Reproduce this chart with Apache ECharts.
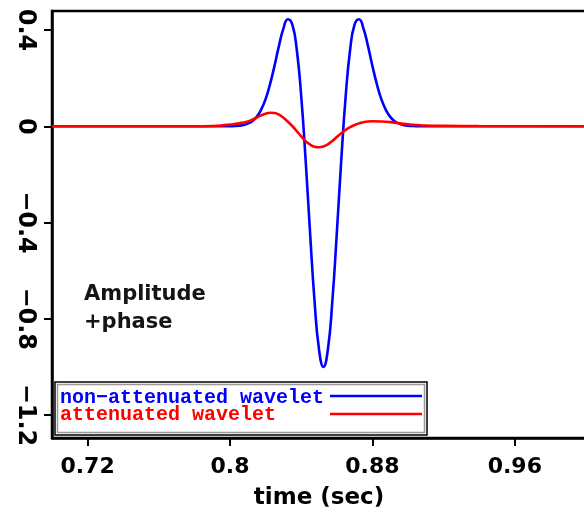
<!DOCTYPE html>
<html>
<head>
<meta charset="utf-8">
<script src="https://cdn.jsdelivr.net/npm/echarts@6/dist/echarts.min.js"></script>
<style>html,body{margin:0;padding:0;background:#fff;}#c{width:584px;height:513px;}</style>
</head>
<body>
<div id="c"></div>
<script>
var xTicks = [0.72, 0.8, 0.88, 0.96];
var yTicks = [0.4, 0, -0.4, -0.8, -1.2];
var seriesNames = ['non\u2212attenuated wavelet', 'attenuated wavelet'];
var annotation = ['Amplitude', '+phase'];

var blueT = [0.70, 0.79, 0.80,
  0.8025, 0.805, 0.8075, 0.81, 0.8125, 0.815, 0.8175, 0.82, 0.8225, 0.825,
  0.8275, 0.83, 0.8325, 0.835, 0.8375, 0.84, 0.8425, 0.845, 0.8475, 0.85,
  0.8525,
  0.855, 0.8575, 0.86, 0.8625, 0.865, 0.8675, 0.87, 0.8725, 0.875, 0.8775,
  0.88, 0.8825, 0.885, 0.8875, 0.89, 0.8925, 0.895, 0.8975, 0.90, 0.9025,
  0.91, 1.0];
var blueV = [0, 0, 0,
  0.001, 0.002, 0.005, 0.011, 0.021, 0.039, 0.069, 0.113, 0.175, 0.251,
  0.334, 0.406, 0.445, 0.423, 0.319, 0.126, -0.142, -0.445, -0.727, -0.927,
  -1.0,
  -0.927, -0.727, -0.445, -0.142, 0.126, 0.319, 0.423, 0.445, 0.406, 0.334,
  0.251, 0.175, 0.113, 0.069, 0.039, 0.021, 0.011, 0.005, 0.002, 0.001,
  0, 0];

var redT = [0.70, 0.78, 0.79, 0.795, 0.80, 0.805, 0.81, 0.8125, 0.815, 0.8175,
  0.82, 0.8225, 0.825, 0.8275, 0.83, 0.8325, 0.835, 0.8375, 0.84, 0.8425,
  0.845, 0.8475, 0.85, 0.8525, 0.855, 0.8575, 0.86, 0.8625, 0.865, 0.8675,
  0.87, 0.8725, 0.875, 0.8775, 0.88, 0.885, 0.89, 0.895, 0.90, 0.905,
  0.91, 0.92, 0.94, 1.0];
var redV = [0, 0, 0.001, 0.003, 0.007, 0.012, 0.020, 0.027, 0.036, 0.045,
  0.052, 0.056, 0.055, 0.048, 0.035, 0.019, 0.001, -0.020, -0.042, -0.062,
  -0.076, -0.085, -0.087, -0.084, -0.075, -0.061, -0.045, -0.029, -0.015, -0.004,
  0.005, 0.012, 0.017, 0.020, 0.021, 0.020, 0.017, 0.012, 0.008, 0.005,
  0.003, 0.002, 0.001, 0];

function pairs(t, v) { return t.map(function (x, i) { return [x, v[i]]; }); }
function fmt(v) { return v < 0 ? '\u2212' + String(-v) : String(v); }

var chart = echarts.init(document.getElementById('c'), null, {renderer: 'canvas'});
var font = 'DejaVu Sans';
chart.setOption({
  animation: false,
  backgroundColor: '#fff',
  grid: {left: 52, top: 11, bottom: 75, right: -2, outerBoundsMode: 'none', containLabel: false,
         show: true, borderColor: '#000', borderWidth: 2.5, backgroundColor: 'transparent'},
  xAxis: {
    type: 'value', min: 0.70, max: 1.0,
    name: 'time (sec)', nameLocation: 'middle', nameGap: 49,
    nameTextStyle: {fontFamily: font, fontWeight: 'bold', fontSize: 23, color: '#000'},
    splitLine: {show: false},
    axisLine: {show: true, onZero: false, lineStyle: {color: '#000', width: 2.5}},
    axisTick: {show: true, length: 8, lineStyle: {color: '#000', width: 2}, customValues: xTicks},
    axisLabel: {customValues: xTicks, formatter: fmt, margin: 18, fontFamily: font, fontWeight: 'bold', fontSize: 22, color: '#000'}
  },
  yAxis: {
    type: 'value', min: -1.2956, max: 0.479,
    splitLine: {show: false},
    axisLine: {show: true, onZero: false, lineStyle: {color: '#000', width: 2.5}},
    axisTick: {show: true, length: 8, lineStyle: {color: '#000', width: 2}, customValues: yTicks},
    axisLabel: {customValues: yTicks, formatter: fmt, rotate: -90, margin: 15, fontFamily: font, fontWeight: 'bold', fontSize: 24, color: '#000'}
  },
  series: [
    {name: seriesNames[0], type: 'line', data: pairs(blueT, blueV), showSymbol: false, smooth: true, z: 2,
     lineStyle: {color: '#0000ff', width: 2.6}},
    {name: seriesNames[1], type: 'line', data: pairs(redT, redV), showSymbol: false, smooth: true, z: 3,
     lineStyle: {color: '#ff0000', width: 2.6}}
  ],
  graphic: [
    {type: 'rect', shape: {x: 55, y: 382, width: 372, height: 53}, style: {fill: '#fff', stroke: '#000', lineWidth: 1.5}, z: 10},
    {type: 'rect', shape: {x: 57.5, y: 384.5, width: 367, height: 48}, style: {fill: 'none', stroke: '#999', lineWidth: 1.5}, z: 10},
    {type: 'text', x: 60, y: 398, style: {text: seriesNames[0], fill: '#0000ff', font: 'bold 20px "Liberation Mono"', textVerticalAlign: 'middle'}, z: 11},
    {type: 'text', x: 60, y: 415, style: {text: seriesNames[1], fill: '#ff0000', font: 'bold 20px "Liberation Mono"', textVerticalAlign: 'middle'}, z: 11},
    {type: 'line', shape: {x1: 330, y1: 396, x2: 422, y2: 396}, style: {stroke: '#0000ff', lineWidth: 2.5}, z: 11},
    {type: 'line', shape: {x1: 330, y1: 414, x2: 422, y2: 414}, style: {stroke: '#ff0000', lineWidth: 2.5}, z: 11},
    {type: 'text', x: 84, y: 295, style: {text: annotation[0], fill: '#151515', font: 'bold 21px "DejaVu Sans"', textVerticalAlign: 'middle'}, z: 11},
    {type: 'text', x: 84, y: 323, style: {text: annotation[1], fill: '#151515', font: 'bold 21px "DejaVu Sans"', textVerticalAlign: 'middle'}, z: 11}
  ]
});
</script>
</body>
</html>
